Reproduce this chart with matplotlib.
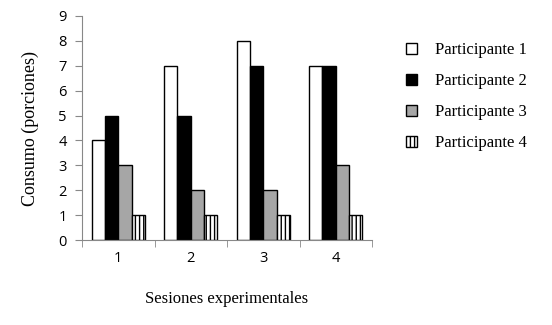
import numpy as np
import matplotlib
matplotlib.use("Agg")
import matplotlib.pyplot as plt

sesiones = ["1", "2", "3", "4"]
participantes = ["Participante 1", "Participante 2", "Participante 3", "Participante 4"]
p1 = [4, 7, 8, 7]
p2 = [5, 5, 7, 7]
p3 = [3, 2, 2, 3]
p4 = [1, 1, 1, 1]
series = [p1, p2, p3, p4]

colors = ["white", "black", "#a6a6a6", "white"]
hatches = [None, None, None, "||||"]

fig = plt.figure(figsize=(5.52, 3.25), dpi=100)
ax = fig.add_axes([0.1486, 0.2615, 0.5254, 0.6893])

x = np.arange(len(sesiones))
w = 0.184
for i, (vals, c, h) in enumerate(zip(series, colors, hatches)):
    ax.bar(x + (i - 1.5) * w, vals, w, color=c, edgecolor="black",
           linewidth=1.0, hatch=h, label=participantes[i])

ax.set_xlim(-0.5, 3.5)
ax.set_ylim(0, 9)
ax.set_yticks(range(10))
ax.set_xticks(x)
ax.set_xticklabels(sesiones)
ax.set_xticks(np.arange(-0.5, 4.0, 1.0), minor=True)
ax.tick_params(axis="x", which="major", length=0, pad=8)
ax.tick_params(axis="x", which="minor", length=5, color="#888888")
ax.tick_params(axis="y", length=5, color="#888888", pad=6)
for lab in ax.get_xticklabels() + ax.get_yticklabels():
    lab.set_fontfamily("Open Sans")
    lab.set_fontsize(10.5)

for s in ["top", "right"]:
    ax.spines[s].set_visible(False)
for s in ["left", "bottom"]:
    ax.spines[s].set_color("#888888")

ax.set_ylabel("Consumo (porciones)", family="Liberation Serif", fontsize=13, labelpad=14)
ax.set_xlabel("Sesiones experimentales", family="Liberation Serif", fontsize=12, labelpad=18)

ax.legend(loc="upper left", bbox_to_anchor=(1.065, 0.95), frameon=False,
          prop={"family": "Liberation Serif", "size": 12},
          handlelength=0.65, handleheight=0.65, labelspacing=0.9, handletextpad=1.1)

fig.savefig("out.png", dpi=100)
